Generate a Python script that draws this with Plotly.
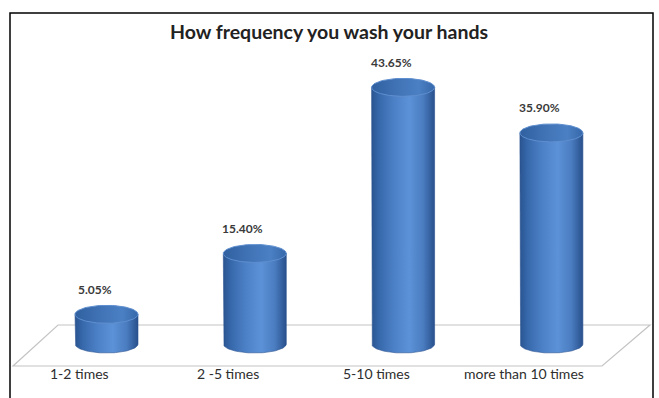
import numpy as np
import plotly.graph_objects as go

# Survey results
categories = ["1-2 times", "2 -5 times", "5-10 times", "more than 10 times"]
percent = [5.05, 15.40, 43.65, 35.90]
value_labels = ["5.05%", "15.40%", "43.65%", "35.90%"]
title_text = "How frequency you wash your hands"

W, H = 659, 398
# axis scaling (px per unit) used to size cylinders and place labels
PX_PER_CAT = 148.3
PX_PER_PCT = 5.88
X0_PX = 106.5      # pixel of first category centre
BASE_PX = 344      # pixel row of the value 0

x_lo = -X0_PX / PX_PER_CAT
x_hi = x_lo + W / PX_PER_CAT
y_lo = -(H - BASE_PX) / PX_PER_PCT
y_hi = BASE_PX / PX_PER_PCT

rx = 31.5 / PX_PER_CAT     # cylinder half-width in category units
ry = 9.0 / PX_PER_PCT      # ellipse half-height in percent units

body_scale = [
    [0.0, "#2a5490"], [0.12, "#3668ab"], [0.35, "#4c80c6"],
    [0.6, "#5c92d8"], [0.82, "#4a7cc0"], [1.0, "#28508c"],
]
cap_scale = [
    [0.0, "#30609f"], [0.4, "#4073b6"], [0.75, "#4b80c4"], [1.0, "#3668aa"],
]

fig = go.Figure()

t_bottom = np.linspace(np.pi, 2 * np.pi, 60)
t_full = np.linspace(0, 2 * np.pi, 120)

for i, v in enumerate(percent):
    # body: rectangle with rounded bottom (lower half ellipse at value 0)
    bx = [i - rx] + list(i + rx * np.cos(t_bottom)) + [i + rx, i - rx]
    by = [v] + list(ry * np.sin(t_bottom)) + [v, v]
    fig.add_trace(go.Scatter(
        x=bx, y=by, mode="lines", fill="toself",
        line=dict(width=0.6, color="#2a5290"),
        fillgradient=dict(type="horizontal", colorscale=body_scale),
        hoverinfo="skip", showlegend=False,
    ))
    # top cap
    cx = i + rx * np.cos(t_full)
    cy = v + ry * np.sin(t_full)
    fig.add_trace(go.Scatter(
        x=cx, y=cy, mode="lines", fill="toself",
        line=dict(width=1, color="#5f8fcf"),
        fillgradient=dict(type="horizontal", colorscale=cap_scale),
        hoverinfo="skip", showlegend=False,
    ))

annotations = []
for i, (v, lab) in enumerate(zip(percent, value_labels)):
    annotations.append(dict(
        x=i - 12 / PX_PER_CAT, y=v + ry, xref="x", yref="y",
        text=f"<b>{lab}</b>", showarrow=False, yshift=16,
        font=dict(family="Lato", size=12, color="#3a3a3a"),
    ))
for i, c in enumerate(categories):
    annotations.append(dict(
        x=i - 27 / PX_PER_CAT, y=1 - 384 / H, xref="x", yref="paper",
        text=c, showarrow=False,
        font=dict(family="Lato", size=14, color="#2e2e2e"),
    ))


def px(x):
    return x / W


def py(y):
    return 1 - y / H


shapes = [
    # outer frame
    dict(type="rect", xref="paper", yref="paper",
         x0=px(10), x1=px(653), y0=py(402), y1=py(13),
         line=dict(color="#000000", width=1.5), layer="below"),
    # floor
    dict(type="path", xref="paper", yref="paper",
         path=(f"M {px(58)} {py(325)} L {px(650)} {py(325)} "
               f"L {px(602)} {py(366)} L {px(13)} {py(366)} Z"),
         line=dict(color="#c4c4c4", width=1.2), fillcolor="#ffffff",
         layer="below"),
]

fig.update_layout(
    width=W, height=H,
    margin=dict(l=0, r=0, t=0, b=0),
    paper_bgcolor="#ffffff", plot_bgcolor="rgba(0,0,0,0)",
    title=dict(text=f"<b>{title_text}</b>", x=329 / W, y=1 - 32 / H,
               xanchor="center", yanchor="middle",
               font=dict(family="Lato", size=19.5, color="#222222")),
    xaxis=dict(range=[x_lo, x_hi], visible=False, fixedrange=True),
    yaxis=dict(range=[y_lo, y_hi], visible=False, fixedrange=True),
    annotations=annotations,
    shapes=shapes,
    showlegend=False,
)

fig.write_html("out.html")
